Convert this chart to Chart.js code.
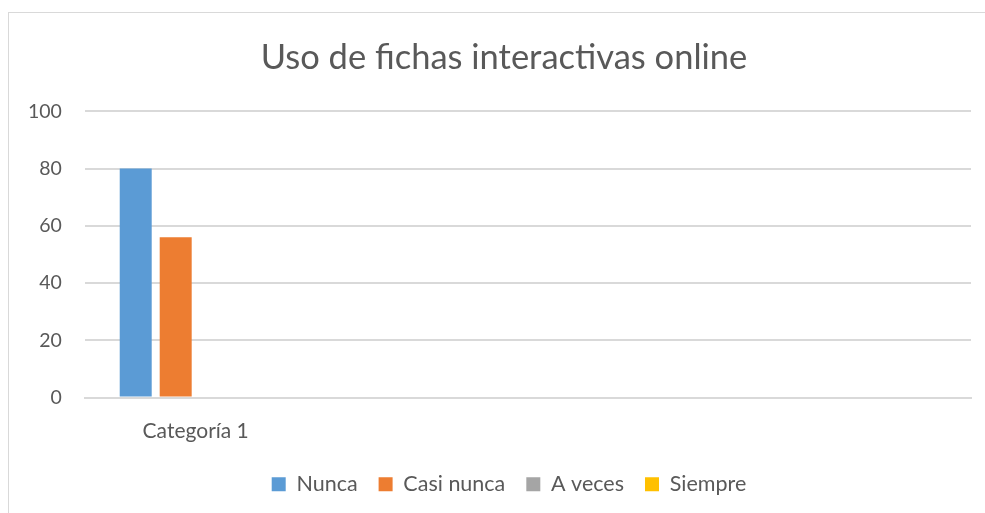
<!DOCTYPE html>
<html>
<head>
<meta charset="utf-8">
<script src="https://cdn.jsdelivr.net/npm/chart.js@4/dist/chart.umd.min.js"></script>
<style>
  html, body { margin: 0; padding: 0; background: #fff; }
  .wrap { position: relative; width: 985px; height: 513px; overflow: hidden; }
  .frame { position: absolute; left: 8px; top: 12px; width: 1000px; height: 540px; border: 1px solid #d9d9d9; box-sizing: border-box; }
  canvas { position: absolute; left: 0; top: 0; }
</style>
</head>
<body>
<div class="wrap">
  <div class="frame"></div>
  <canvas id="c" width="985" height="513"></canvas>
</div>
<script>
const title      = 'Uso de fichas interactivas online'
const categories = ['Categoría 1', '', '', '']
const nunca      = [80, null, null, null]
const casiNunca  = [56, null, null, null]
const aVeces     = [0, null, null, null]
const siempre    = [0, null, null, null]
const yTicks     = [0, 20, 40, 60, 80, 100]

const FONT = 'Lato, "Open Sans", sans-serif'
const TEXT = '#595959'
const GRID = '#d9d9d9'

const bar = (label, data, color) => ({
  label, data, backgroundColor: color, borderWidth: 0,
  barPercentage: 0.8, categoryPercentage: 0.722
})

// title and legend sit centred on the chart frame, a bit right of the canvas centre
const shiftBlocks = {
  id: 'shiftBlocks',
  beforeDraw(chart) {
    chart.titleBlock.left = 37
    chart.legend.left = 47
  }
}

new Chart(document.getElementById('c'), {
  type: 'bar',
  data: {
    labels: categories,
    datasets: [
      bar('Nunca', nunca, '#5B9BD5'),
      bar('Casi nunca', casiNunca, '#ED7D31'),
      bar('A veces', aVeces, '#A5A5A5'),
      bar('Siempre', siempre, '#FFC000')
    ]
  },
  plugins: [shiftBlocks],
  options: {
    responsive: false, animation: false,
    layout: { padding: { left: 5, right: 14, top: 0, bottom: 8 } },
    plugins: {
      tooltip: { enabled: false },
      title: {
        display: true, text: title, color: TEXT,
        font: { family: FONT, size: 34.5, weight: 'normal' },
        padding: { top: 37, bottom: 33 }
      },
      legend: {
        position: 'bottom',
        labels: {
          color: TEXT, boxWidth: 14, boxHeight: 14, padding: 21,
          font: { family: FONT, size: 21.5 }
        }
      }
    },
    scales: {
      x: {
        grid: { display: false },
        border: { color: GRID, width: 2 },
        ticks: { color: TEXT, font: { family: FONT, size: 21 }, padding: 13, maxRotation: 0 },
        afterFit: s => { s.height = 55 }
      },
      y: {
        min: 0, max: 100,
        afterBuildTicks: s => { s.ticks = yTicks.map(v => ({ value: v })) },
        grid: { color: GRID, lineWidth: 2, drawTicks: false },
        border: { display: false },
        ticks: { color: TEXT, font: { family: FONT, size: 19.5 }, padding: 23 }
      }
    }
  }
})
</script>
</body>
</html>
